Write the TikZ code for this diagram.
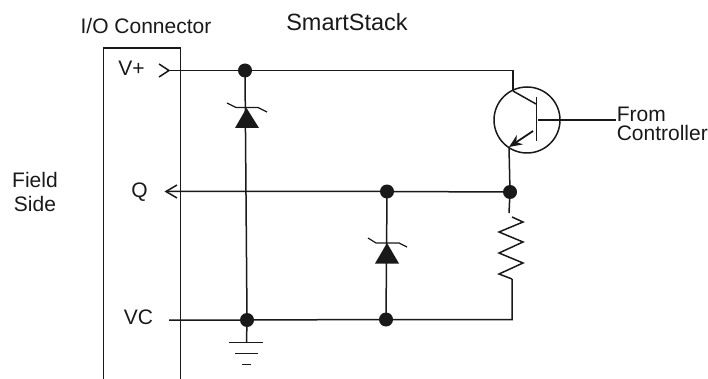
\documentclass[tikz,border=0pt]{standalone}
\usepackage{fontspec}
\setmainfont{Liberation Sans}
\usetikzlibrary{arrows.meta}
\begin{document}
\begin{tikzpicture}[x=1pt,y=-1pt,line width=1.5pt,color=black!90,
	lbl/.style={inner sep=0,font=\fontsize{21}{24}\selectfont},
	dot/.style={circle,fill,inner sep=0,minimum size=14pt},
	pt/.style={inner sep=0,minimum size=0pt}]
\useasboundingbox (0,0) rectangle (708,379);
% labels
\node[lbl] (io) at (146,26) {I/O Connector};
\node[lbl,font=\fontsize{23.5}{24}\selectfont] (smart) at (347,22) {SmartStack};
\node[lbl,align=center] (field) at (35,191.7) {Field\\Side};
\node[lbl] (vplus) at (131.5,68.5) {V+};
\node[lbl] (q) at (139.5,192.5) {Q};
\node[lbl] (vc) at (138.5,317.7) {VC};
\node[lbl,font=\fontsize{21}{19}\selectfont,align=left,anchor=west] (ctrl) at (616,124) {From\\Controller};
% connector box
\draw (103.5,379) -- (103.5,48) -- (180.5,48) -- (180.5,379);
% junctions
\node[dot] (a) at (245,70.5) {};
\node[dot] (b) at (247,320) {};
\node[dot] (c) at (387,191.5) {};
\node[dot] (d) at (510,192) {};
\node[dot] (e) at (386,319.5) {};
\node[pt] (vin) at (170,70.5) {};
\node[pt] (qin) at (166,191.5) {};
\node[pt] (vcin) at (169,320) {};
\node[pt] (tc) at (513,70.5) {};
\node[pt] (tt) at (513,91) {};
\node[pt] (rb) at (512,319.5) {};
% wires
\draw (vin.center) -- (a.center) -- (tc.center) -- (tt.center);
\draw (qin.center) -- (c.center) -- (d.center);
\draw (vcin.center) -- (b.center) -- (e.center) -- (rb.center) -- (512,279);
\draw (a.center) -- (b.center);
\draw (c.center) -- (e.center);
% chevrons
\draw (159,64) -- (169,70.5) -- (159,77);
\draw (177,185) -- (166,191.5) -- (177,198);
% zeners
\fill (246.5,108) -- (259,128) -- (235,128) -- cycle;
\draw[line width=1.2pt] (227,103) -- (236,107.5) -- (258,107.5) -- (267,112);
\fill (387,243) -- (399,263.5) -- (375,263.5) -- cycle;
\draw[line width=1.2pt] (368,238) -- (376,243) -- (399,243) -- (407,247);
% ground
\draw (b.center) -- (246.5,342.5);
\draw (229,342.5) -- (263,342.5);
\draw (235,353.5) -- (257.5,353.5);
\draw (242,364.5) -- (251,364.5);
% transistor
\node[circle,draw,inner sep=0,minimum size=66pt] (t) at (527,120) {};
\draw (tt.center) -- (536,104);
\draw (536.5,97) -- (536.5,141);
\draw (538,120) -- (ctrl.west |- 0,120);
\draw[-{Stealth[length=13pt,width=11pt]},line width=1.8pt] (533,131) -- (509,147);
\draw (509,147) -- (d.center);
% resistor
\draw (d.center) -- (509,213);
\draw (512,217) -- (523,222) -- (499,232) -- (523,242) -- (499,253) -- (523,263) -- (499,274) -- (512,279);
\end{tikzpicture}
\end{document}
